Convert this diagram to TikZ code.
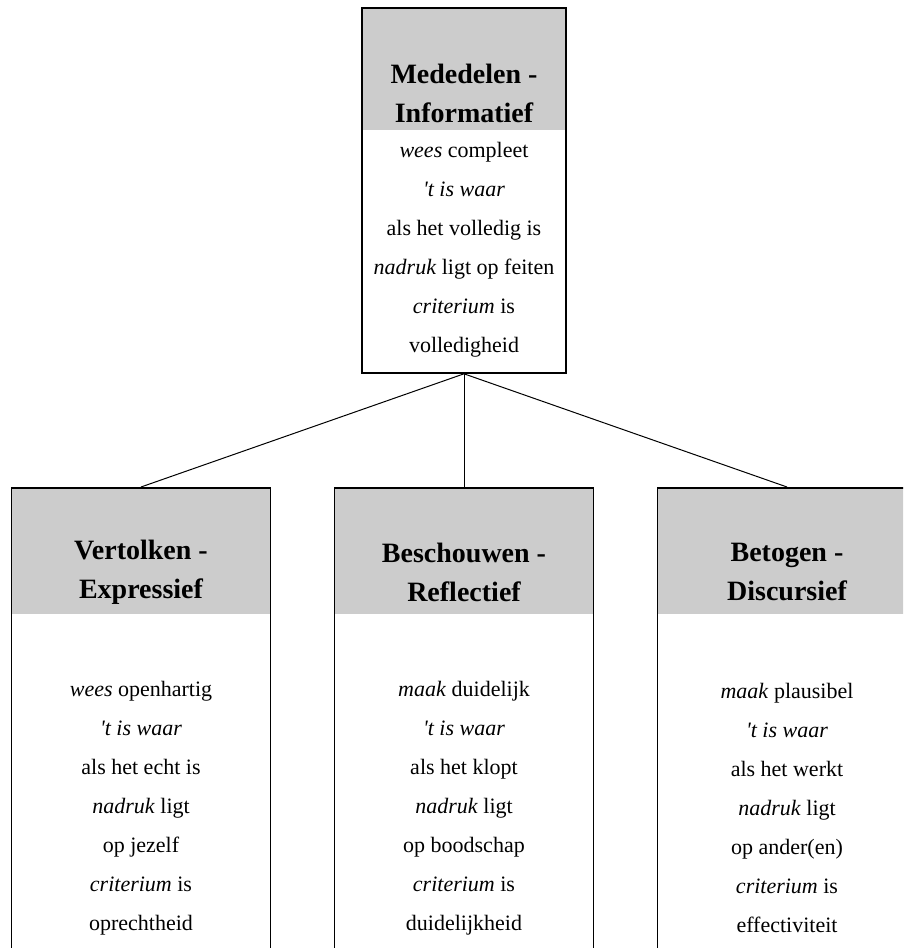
\documentclass[tikz,border=0pt]{standalone}
\usepackage{fontspec}
\setmainfont{Liberation Serif}
\usetikzlibrary{positioning}
\definecolor{headgray}{RGB}{204,204,204}
\tikzset{frame/.style = {draw, line width=1.8pt, inner sep=0, anchor=north},
  headbox/.style = {fill=headgray, inner sep=0, anchor=north},
  headtxt/.style = {font=\bfseries\fontsize{28}{39}\selectfont, align=center},
  bodytxt/.style = {font=\fontsize{22}{39}\selectfont, align=center},
  link/.style = {line width=1pt}}

\begin{document}
\begin{tikzpicture}[x=1pt, y=-1pt]
      \useasboundingbox (0,0) rectangle (903,948);
      \clip (0,0) rectangle (903,948);

      % bovenste vak
      \node [headbox, minimum width=204, minimum height=123] (tophead) at (464,7) {};
      \node [frame, minimum width=204, minimum height=365] (top) at (464,7) {};
      \node [headtxt] (toptitle) at (464,93) {Mededelen -\\Informatief};
      \node [bodytxt] (toptext) at (464,250) {\textit{wees} compleet\\
        \textit{\textquotesingle t is waar}\\als het volledig is\\
        \textit{nadruk} ligt op feiten\\\textit{criterium} is\\volledigheid};

      \foreach \id/\x/\hd/\bd in {
          expr/141/{Vertolken -\\Expressief}/{\textit{wees} openhartig\\
            \textit{\textquotesingle t is waar}\\als het echt is\\
            \textit{nadruk} ligt\\op jezelf\\\textit{criterium} is\\oprechtheid},
          refl/464/{Beschouwen -\\Reflectief}/{\textit{maak} duidelijk\\
            \textit{\textquotesingle t is waar}\\als het klopt\\
            \textit{nadruk} ligt\\op boodschap\\\textit{criterium} is\\duidelijkheid},
          disc/787/{Betogen -\\Discursief}/{\textit{maak} plausibel\\
            \textit{\textquotesingle t is waar}\\als het werkt\\
            \textit{nadruk} ligt\\op ander(en)\\\textit{criterium} is\\effectiviteit}} {
        \node [headbox, minimum width=259, minimum height=127] (\id-head) at (\x,487) {};
        \node [frame, minimum width=259, minimum height=520] (\id) at (\x,487) {};
        \node [headtxt] (\id-title) at (\x,572) {\hd};
        \node [bodytxt] (\id-text) at (\x,808) {\bd};
        \draw [link] (top.south) -- (\id.north);
      }
    \end{tikzpicture}
\end{document}
